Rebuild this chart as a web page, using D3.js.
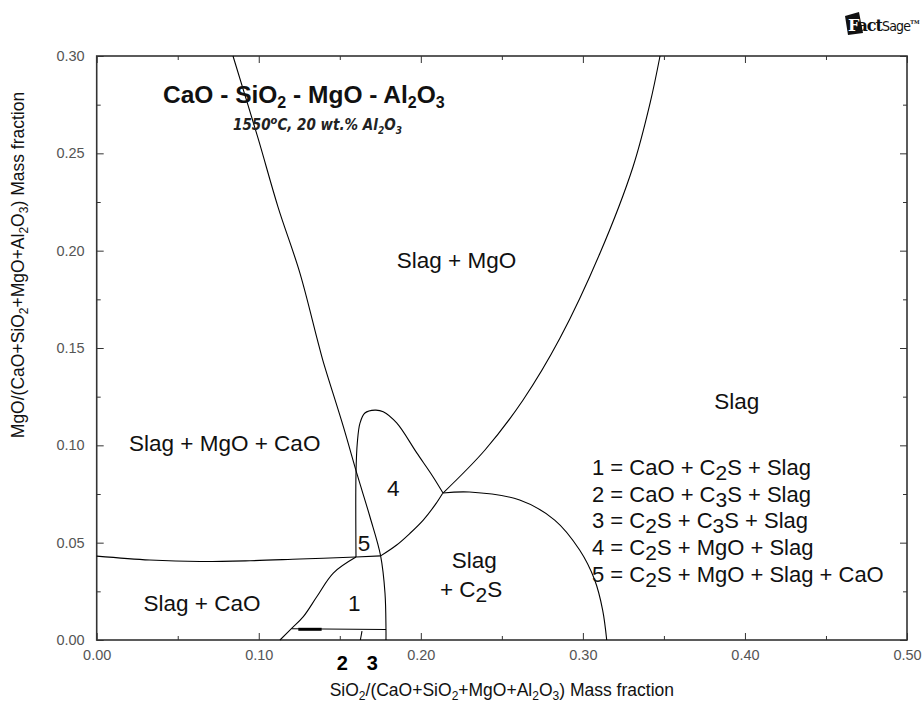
<!DOCTYPE html>
<html>
<head>
<meta charset="utf-8">
<script src="https://cdn.jsdelivr.net/npm/d3@7"></script>
<style>
  body { margin: 0; background: #fff; }
  svg { display: block; font-family: Arial, "Liberation Sans", sans-serif; }
</style>
</head>
<body>
<svg id="chart" width="923" height="706"></svg>
<script>
// phase boundaries, [SiO2 fraction, MgO fraction]
const mgoLeft = [[0.0841, 0.300], [0.0995, 0.2579], [0.1119, 0.2224], [0.1254, 0.1885], [0.1359, 0.1551],
  [0.1395, 0.1438], [0.1522, 0.1096], [0.1608, 0.0848], [0.1686, 0.0633], [0.1752, 0.0432],
  [0.1779, 0.024], [0.1785, 0.0057], [0.1785, 0]];
const mgoRight = [[0.3476, 0.300], [0.3415, 0.2759], [0.3309, 0.2430], [0.3106, 0.1988], [0.2859, 0.1551],
  [0.2631, 0.1233], [0.2396, 0.0976], [0.2137, 0.0755]];
const c2sLoop = [[0.1600, 0.0426], [0.1600, 0.0858], [0.1608, 0.1012], [0.1625, 0.1115], [0.1655, 0.1166],
  [0.1717, 0.1181], [0.1768, 0.1173], [0.1851, 0.1115], [0.1975, 0.0961], [0.2075, 0.0839], [0.2137, 0.0755]];
const c2sRight = [[0.2137, 0.0755], [0.2300, 0.0760], [0.2610, 0.0719], [0.2826, 0.0616], [0.2980, 0.0462],
  [0.3073, 0.0308], [0.3122, 0.0154], [0.3147, 0]];
const caoMgo = [[0, 0.0431], [0.0327, 0.0411], [0.0637, 0.0403], [0.0946, 0.0407], [0.1254, 0.0416], [0.1600, 0.0426]];
const region5Base = [[0.1600, 0.0426], [0.1752, 0.0432]];
const c2sMgo = [[0.1752, 0.0432], [0.1851, 0.0488], [0.1933, 0.0548], [0.2015, 0.0616], [0.2088, 0.0694], [0.2135, 0.0754]];
const region1Left = [[0.1600, 0.0426], [0.1460, 0.0344], [0.1358, 0.0222], [0.1275, 0.0120], [0.1203, 0.0060], [0.1131, 0]];
const region1Base = [[0.1203, 0.0058], [0.1785, 0.0054]];
const region2 = [[0.1244, 0.0055], [0.1388, 0.0055]];
const region3Left = [[0.1637, 0.0046], [0.1627, 0]];

const xMajor = [0, 0.1, 0.2, 0.3, 0.4, 0.5];
const xMinor = [0.05, 0.15, 0.25, 0.35, 0.45];
const yMajor = [0, 0.05, 0.10, 0.15, 0.20, 0.25, 0.30];
const yMinor = [0.025, 0.075, 0.125, 0.175, 0.225, 0.275];

const fieldLabels = [
  { t: "Slag + MgO", x: 0.222, y: 0.195 },
  { t: "Slag", x: 0.395, y: 0.123 },
  { t: "Slag + MgO + CaO", x: 0.079, y: 0.101 },
  { t: "Slag + CaO", x: 0.065, y: 0.019 },
  { t: "Slag", x: 0.233, y: 0.041 },
  { t: "+ C_2S", x: 0.231, y: 0.026 },
  { t: "4", x: 0.183, y: 0.078 },
  { t: "5", x: 0.165, y: 0.050 },
  { t: "1", x: 0.159, y: 0.019 }
];
const legendLines = [
  "1 = CaO + C_2S + Slag",
  "2 = CaO + C_3S + Slag",
  "3 = C_2S + C_3S + Slag",
  "4 = C_2S + MgO + Slag",
  "5 = C_2S + MgO + Slag + CaO"
];

const svg = d3.select("#chart");
const margin = { left: 96.7, right: 16, top: 56, bottom: 66 };
const W = 923, H = 706;
const x = d3.scaleLinear([0, 0.5], [margin.left, W - margin.right]);
const y = d3.scaleLinear([0, 0.3], [H - margin.bottom, margin.top]);

// text with _2 style subscripts
function rich(sel, str, subSize, subShift) {
  let back = 0;
  str.split(/(_\d)/).forEach(p => {
    if (!p) return;
    if (p[0] === "_") {
      sel.append("tspan").attr("dy", subShift + back).attr("font-size", subSize).text(p[1]);
      back = -subShift;
    } else {
      const ts = sel.append("tspan").text(p);
      if (back) ts.attr("dy", back);
      back = 0;
    }
  });
}

// axes
const axCol = "#333";
function axisG(axis, tx, ty) {
  const g = svg.append("g").attr("transform", `translate(${tx},${ty})`).call(axis);
  g.select(".domain").remove();
  g.selectAll("line").attr("stroke", axCol);
  g.selectAll("text").attr("fill", "#555").attr("font-size", 14.5);
  return g;
}
const fmt = d3.format(".2f");
axisG(d3.axisBottom(x).tickValues(xMajor).tickSize(-7).tickPadding(10).tickFormat(fmt), 0, y(0));
axisG(d3.axisBottom(x).tickValues(xMinor).tickSize(-4).tickFormat(""), 0, y(0));
axisG(d3.axisTop(x).tickValues(xMajor).tickSize(-7).tickFormat(""), 0, y(0.3));
axisG(d3.axisTop(x).tickValues(xMinor).tickSize(-4).tickFormat(""), 0, y(0.3));
axisG(d3.axisLeft(y).tickValues(yMajor).tickSize(-7).tickPadding(12).tickFormat(fmt), x(0), 0);
axisG(d3.axisLeft(y).tickValues(yMinor).tickSize(-4).tickFormat(""), x(0), 0);
axisG(d3.axisRight(y).tickValues(yMajor).tickSize(-7).tickFormat(""), x(0.5), 0);
axisG(d3.axisRight(y).tickValues(yMinor).tickSize(-4).tickFormat(""), x(0.5), 0);

svg.append("rect")
  .attr("x", x(0)).attr("y", y(0.3))
  .attr("width", x(0.5) - x(0)).attr("height", y(0) - y(0.3))
  .attr("fill", "none").attr("stroke", axCol).attr("stroke-width", 1.6);

// boundaries
const smooth = d3.line().x(d => x(d[0])).y(d => y(d[1])).curve(d3.curveCatmullRom.alpha(0.5));
const straight = d3.line().x(d => x(d[0])).y(d => y(d[1]));
const lines = svg.append("g").attr("fill", "none").attr("stroke", "#000").attr("stroke-width", 1.1);
[mgoLeft, mgoRight, c2sLoop, c2sRight, caoMgo, c2sMgo, region1Left].forEach(d => lines.append("path").attr("d", smooth(d)));
[region5Base, region1Base, region3Left].forEach(d => lines.append("path").attr("d", straight(d)));
lines.append("path").attr("d", straight(region2)).attr("stroke-width", 3);

// field labels
const lab = svg.append("g").attr("font-size", 22.5).attr("fill", "#111").attr("text-anchor", "middle");
fieldLabels.forEach(d => {
  const t = lab.append("text").attr("x", x(d.x)).attr("y", y(d.y) + 8);
  rich(t, d.t, 21, 5);
});

// legend
const leg = svg.append("g").attr("font-size", 22).attr("fill", "#111");
legendLines.forEach((s, i) => {
  const t = leg.append("text").attr("x", 592).attr("y", 475 + i * 26.7);
  rich(t, s, 21, 5);
});

// 2 and 3 under the axis
svg.append("g").attr("font-size", 20).attr("font-weight", "bold").attr("text-anchor", "middle")
  .selectAll("text").data([["2", 0.1515], ["3", 0.1700]]).join("text")
  .attr("x", d => x(d[1])).attr("y", 670).text(d => d[0]);

// title
const title = svg.append("text").attr("x", 163).attr("y", 103)
  .attr("font-size", 24.5).attr("font-weight", "bold").attr("fill", "#111");
rich(title, "CaO - SiO_2 - MgO - Al_2O_3", 16, 5);

const sub = svg.append("text").attr("x", 233).attr("y", 130)
  .attr("font-size", 15).attr("font-weight", "bold").attr("font-style", "italic")
  .attr("font-family", "'Liberation Sans Narrow', 'Arial Narrow', 'DejaVu Sans Condensed', sans-serif")
  .attr("fill", "#222");
sub.append("tspan").text("1550");
sub.append("tspan").attr("dy", -6).attr("font-size", 11).text("o");
sub.append("tspan").attr("dy", 6).text("C, 20 wt.% Al");
sub.append("tspan").attr("dy", 4).attr("font-size", 10).text("2");
sub.append("tspan").attr("dy", -4).text("O");
sub.append("tspan").attr("dy", 4).attr("font-size", 10).text("3");

// axis titles
const xt = svg.append("text").attr("x", x(0.25)).attr("y", 696).attr("text-anchor", "middle")
  .attr("font-size", 17.5).attr("fill", "#111");
rich(xt, "SiO_2/(CaO+SiO_2+MgO+Al_2O_3) Mass fraction", 12, 4);
const yt = svg.append("text").attr("transform", "translate(24,265) rotate(-90)").attr("text-anchor", "middle")
  .attr("font-size", 17.5).attr("fill", "#111");
rich(yt, "MgO/(CaO+SiO_2+MgO+Al_2O_3) Mass fraction", 12, 4);

// FactSage logo
const logo = svg.append("g").attr("transform", "translate(845,12)");
logo.append("path").attr("d", "M0,4 L14,0 L18,21 L3,23 Z").attr("fill", "#111");
const lt = logo.append("text").attr("x", 3).attr("y", 19).attr("font-size", 16).attr("font-weight", "bold")
  .attr("font-family", "'DejaVu Serif', serif").attr("letter-spacing", -1);
lt.append("tspan").attr("fill", "#fff").text("F");
lt.append("tspan").attr("fill", "#111").text("act");
lt.append("tspan").attr("fill", "#111").attr("font-weight", "normal").attr("font-size", 14)
  .attr("font-family", "'DejaVu Sans Condensed', sans-serif").attr("letter-spacing", -0.8).text("Sage");
lt.append("tspan").attr("dy", -7).attr("font-size", 5).attr("letter-spacing", 0).attr("fill", "#111").text("TM");
</script>
</body>
</html>
